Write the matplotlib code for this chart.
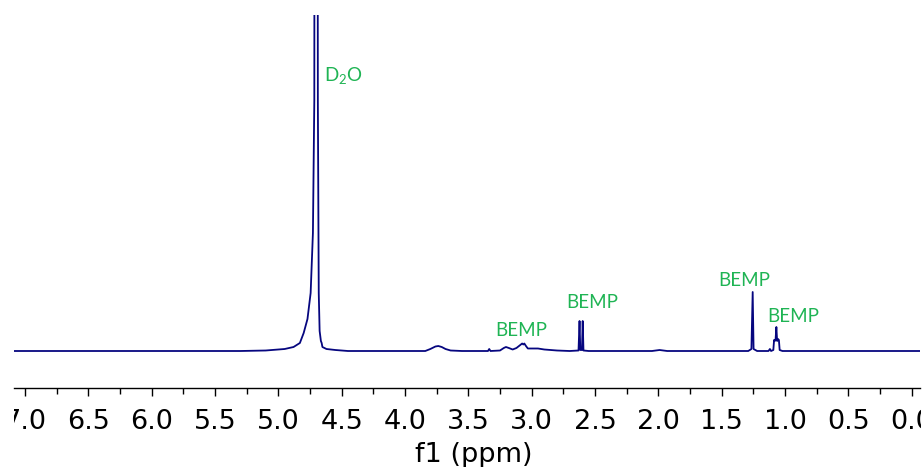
import matplotlib.pyplot as plt
from matplotlib.transforms import Bbox, TransformedBbox

plt.rcParams['mathtext.default'] = 'regular'

# spectrum points (ppm, intensity above baseline)
ppm = [7.09, 5.30, 5.10, 4.95, 4.88, 4.83, 4.80, 4.77, 4.745, 4.727, 4.716, 4.709,
       4.697, 4.688, 4.681, 4.674, 4.664, 4.658, 4.652, 4.62, 4.55, 4.45,
       3.84, 3.80, 3.76, 3.737, 3.71, 3.68, 3.64, 3.55,
       3.345, 3.335, 3.325, 3.25, 3.22, 3.203, 3.18, 3.15, 3.12, 3.09, 3.075,
       3.066, 3.058, 3.045, 3.03, 3.00, 2.95, 2.90, 2.80, 2.70,
       2.63, 2.622, 2.616, 2.603, 2.597, 2.591, 2.55,
       2.05, 1.99, 1.93, 1.29, 1.265, 1.255, 1.248, 1.22,
       1.13, 1.119, 1.11, 1.092, 1.086, 1.08, 1.074, 1.068, 1.062, 1.055, 1.048,
       1.042, 1.02, -0.07]
intensity = [0, 0, 0.5, 2, 4, 8, 18, 32, 58, 118, 251, 1500,
             1500, 250, 58, 20, 10, 8, 4, 2, 1, 0,
             0, 2, 4.5, 5, 4, 2, 0.5, 0,
             0, 2, 0, 0.5, 3, 4, 3, 1.5, 3, 6, 7.5,
             6.5, 7.5, 5, 2.5, 2.5, 2.5, 1.5, 0.5, 0,
             0.5, 30, 1, 1, 30, 0.5, 0,
             0, 1, 0, 0, 2, 59, 2, 0,
             0, 2, 0, 1, 11, 10, 12, 24, 10, 12, 11,
             1, 0, 0]

labels = ['D$_2$O', 'BEMP', 'BEMP', 'BEMP', 'BEMP']
label_ppm = [4.64, 3.084, 2.524, 1.324, 0.937]
label_y = [275, 21, 49, 71, 34]
label_ha = ['left', 'center', 'center', 'center', 'center']

ticks = [7.0, 6.5, 6.0, 5.5, 5.0, 4.5, 4.0, 3.5, 3.0, 2.5, 2.0, 1.5, 1.0, 0.5, 0.0]

fig = plt.figure(figsize=(9.24, 4.67), dpi=100)
ax = fig.add_axes([14 / 924, 79 / 467, 906 / 924, 373 / 467])

ax.plot(ppm, intensity, color='#06067f', lw=1.3)

for txt, x, y, ha in zip(labels, label_ppm, label_y, label_ha):
    ax.text(x, y, txt, color='#1fb454', fontsize=13.5, family='Lato', ha=ha, va='center')

ax.set_xlim(7.087, -0.066)
ax.set_ylim(-37, 336)

for s in ['left', 'right', 'top']:
    ax.spines[s].set_visible(False)
ax.spines['bottom'].set_linewidth(1.0)
ax.set_yticks([])
ax.set_xticks(ticks)
ax.set_xticklabels([f'{t:.1f}' for t in ticks])
ax.set_xticks([t - 0.25 for t in ticks[:-1]], minor=True)
ax.tick_params(axis='x', which='major', length=6, width=1, labelsize=19.5, pad=9)
ax.tick_params(axis='x', which='minor', length=4, width=1)

clip = TransformedBbox(Bbox([[14 / 924, 0], [921 / 924, 1]]), fig.transFigure)
for lab in ax.get_xticklabels():
    lab.set_clip_on(True)
    lab.set_clip_box(clip)

ax.set_xlabel('f1 (ppm)', fontsize=19.5, labelpad=5)
ax.xaxis.label.set_x(0.5077)

fig.savefig('out.png', dpi=100)
